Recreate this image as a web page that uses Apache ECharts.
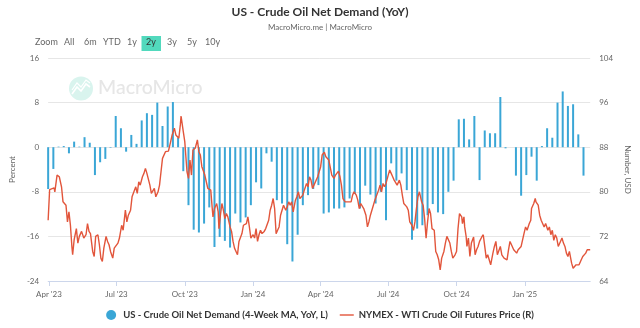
<!DOCTYPE html>
<html>
<head>
<meta charset="utf-8">
<style>
  html, body { margin: 0; padding: 0; background: #fff; }
  #chart { width: 640px; height: 328px; }
</style>
<script src="https://cdn.jsdelivr.net/npm/echarts@6/dist/echarts.min.js"></script>
</head>
<body>
<div id="chart"></div>
<script>
// All dates are stored as day offsets from this base date (2023-03-31).
const baseDate = [2023, 2, 31];
const axisFirstDay = 0;     // 2023-03-31
const axisLastDay = 730;    // 2025-03-30

const barName = 'US - Crude Oil Net Demand (4-Week MA, YoY, L)';
const lineName = 'NYMEX - WTI Crude Oil Futures Price (R)';

// US crude oil net demand, 4-week MA, YoY %, one value per week
const netDemandYoY = [
  -7.5, -3.9, 0.1, 0.2, -1.1, 1.0, 0.1, 1.8, 0.8, -5.0, -2.7, -2.1, -0.1, 5.6, 3.4, -0.8, 2.2, 0.6, 4.8, 6.1, 5.8, 8.0, 3.8, 7.3, 8.1, 1.7, -4.3,
  -10.4, -14.8, -15.3, -13.7, -10.8, -17.9, -16.1, -16.8, -18.0, -11.9, -13.5, -12.6, -10.4, -6.3, -7.4, -1.1, -2.6, -9.5, -10.1, -17.4, -20.5, -15.7, -10.4, -8.6, -7.5, -6.8,
  -11.9, -11.7, -11.0, -11.0, -10.8, -9.2, -8.4, -11.0, -6.9, -8.5, -10.1, -8.0, -13.1, -2.9, -6.0, -4.7, -7.7, -16.6, -14.6, -14.0, -12.2, -10.2, -11.7, -12.0, -8.0, -6.0,
  5.0, 5.1, 1.4, 5.6, -5.9, 3.0, 2.5, 2.5, 9.0, -0.2, 0, -5.1, -8.7, -5.0, -1.7, -6.0, 0.2, 3.4, 1.7, 8.0, 10.0, 7.4, 7.7, 2.3, -5.1
];
const barStepDays = 7;

// NYMEX WTI front-month price, USD: [day offset, price]
const wtiPrice = [
  [0,74.9],[2,80.4],[8,80.7],[9,80.0],[12,83.0],[15,82.7],[18,80.9],[20,78.2],[22,78.5],[24,77.6],[26,74.6],[28,76.4],[30,74.0],[32,70.1],[33,68.7],[35,71.4],[38,73.4],[40,70.8],[42,72.0],[45,72.9],[48,71.7],[51,72.3],[53,74.3],[55,72.9],[57,72.5],[60,69.3],[62,68.4],[64,72.0],[67,72.3],[69,70.5],[71,68.1],[73,67.5],[75,69.9],[78,72.0],[80,71.1],[82,70.5],[84,69.3],[87,68.1],[89,69.9],[91,70.2],[94,70.8],[96,71.7],[99,74.0],[101,73.1],[104,76.7],[106,74.6],[108,75.8],[111,76.7],[113,79.1],[115,79.4],[118,80.9],[120,79.7],[122,81.8],[124,81.2],[127,82.7],[129,83.3],[131,84.2],[133,83.3],[135,83.0],[137,81.2],[139,79.7],[141,80.0],[143,80.6],[145,79.1],[148,80.0],[150,81.2],[152,83.6],[154,86.0],[156,86.3],[158,87.2],[160,87.5],[162,87.3],[165,89.0],[167,90.2],[170,91.4],[172,90.2],[174,89.9],[176,89.6],[178,92.0],[179,93.6],
  [182,90.8],[184,89.0],[187,83.6],[189,82.4],[191,85.7],[193,83.0],[195,87.5],[198,87.8],[201,89.3],[203,87.2],[205,86.6],[207,84.5],[209,84.8],[211,83.0],[213,81.8],[215,80.6],[217,80.9],[219,80.3],[221,77.0],[222,75.5],[224,77.0],[227,77.9],[229,76.4],[230,73.4],[232,75.8],[234,77.9],[236,76.7],[238,75.2],[240,76.1],[242,75.5],[245,73.7],[247,72.9],[249,71.1],[251,69.9],[253,69.3],[255,68.7],[257,71.1],[259,71.4],[261,72.5],[263,74.0],[265,73.7],[267,74.3],[269,75.5],[271,73.7],[273,71.7],[276,72.3],[278,71.7],[280,73.4],[282,71.1],[284,72.3],[286,73.1],[288,72.5],[291,72.9],[293,73.4],[295,73.1],[297,74.9],[299,76.7],[301,77.6],[303,78.8],[305,77.0],[307,72.5],[309,73.1],[311,73.7],[313,75.8],[315,76.7],[317,77.6],[320,76.7],[322,77.3],[324,78.2],[326,77.6],[328,78.2],[330,76.4],[333,78.5],[335,79.1],[337,80.0],[339,78.8],[341,78.5],[343,79.4],[345,80.3],[348,81.5],[350,80.9],[352,82.7],[354,82.1],[356,80.6],[358,81.2],[360,81.5],[363,82.7],[365,83.0],[367,84.5],
  [369,86.6],[372,87.1],[374,86.3],[376,86.0],[378,85.7],[380,85.4],[382,83.0],[385,82.4],[387,83.0],[389,83.3],[391,83.7],[393,82.7],[395,81.2],[397,78.8],[400,78.2],[402,78.5],[404,78.2],[406,78.5],[408,78.2],[410,79.4],[412,80.0],[415,79.4],[417,78.5],[419,77.0],[421,77.9],[423,77.6],[425,77.0],[428,75.8],[430,73.7],[432,74.6],[434,75.8],[436,76.7],[438,77.6],[440,78.5],[442,78.2],[445,80.3],[447,81.2],[449,80.0],[451,81.5],[453,80.9],[455,81.5],[458,83.0],[460,83.9],[462,83.3],[464,82.7],[466,82.1],[468,82.4],[470,81.2],[473,82.1],[475,81.2],[477,79.4],[479,77.9],[481,78.2],[483,77.3],[485,76.7],[487,74.6],[490,74.0],[492,73.1],[494,74.6],[496,77.0],[498,79.1],[500,80.0],[503,78.2],[505,77.6],[507,75.2],[509,71.7],[511,74.6],[513,77.0],[515,76.1],[517,73.4],[520,73.1],[522,69.3],[524,68.7],[526,67.8],[528,66.0],[530,68.1],[533,69.3],[535,70.8],[537,72.0],[539,71.7],[541,70.8],[543,69.3],[545,68.1],[548,68.7],[550,69.3],[552,73.4],
  [554,76.1],[557,75.5],[558,74.3],[560,75.5],[561,73.7],[563,71.9],[564,70.2],[566,71.7],[568,68.4],[570,70.8],[573,71.9],[575,68.7],[577,69.6],[579,70.2],[581,71.1],[584,71.9],[586,72.3],[588,70.2],[590,68.1],[592,68.7],[594,67.8],[596,66.9],[599,69.0],[601,70.2],[603,71.1],[605,68.7],[607,68.4],[609,70.2],[611,68.7],[614,68.1],[616,68.4],[618,67.8],[620,69.6],[622,71.1],[624,70.5],[627,69.6],[629,69.9],[631,69.0],[633,69.6],[635,69.3],[637,70.2],[639,70.5],[641,72.6],[643,73.7],[645,73.1],[648,74.3],[650,74.9],[651,77.0],[654,77.9],[656,78.8],[657,78.2],[660,77.6],[662,75.8],[664,74.9],[666,74.6],[668,73.7],[670,74.3],[673,73.1],[675,73.7],[677,72.3],[679,73.1],[681,71.3],[683,72.3],[685,71.7],[687,70.2],[690,71.1],[692,71.7],[694,70.8],[696,70.2],[698,69.0],[700,68.4],[702,69.3],[705,67.2],[707,66.3],[709,66.0],[711,66.9],[713,67.2],[715,66.9],[718,67.8],[720,68.4],[722,68.7],[724,69.0],[726,69.6],[728,69.3],[730,69.6]
];

// Quarterly ticks on the date axis: [year, month index]
const tickMonths = [[2023,3],[2023,6],[2023,9],[2024,0],[2024,3],[2024,6],[2024,9],[2025,0]];
const tickLabels = ["Apr '23", "Jul '23", "Oct '23", "Jan '24", "Apr '24", "Jul '24", "Oct '24", "Jan '25"];

// Left axis (percent) and right axis (USD) ranges
const leftAxis = { min: -24, max: 16, step: 8 };
const rightAxis = { min: 64, max: 104, step: 8 };

// Range selector buttons shown above the plot
const rangeButtons = ['All', '6m', 'YTD', '1y', '2y', '3y', '5y', '10y'];
const activeRange = '2y';

const FONT = 'Lato, "Noto Sans", sans-serif';
const BAR_COLOR = '#3aa6d6';
const LINE_COLOR = '#e2553b';

const DAY_MS = 86400000;
const baseTime = new Date(baseDate[0], baseDate[1], baseDate[2]).getTime();
const dayOf = (y, m, d) => Math.round((new Date(y, m, d).getTime() - baseTime) / DAY_MS);
const tickDays = tickMonths.map(([y, m]) => dayOf(y, m, 1));
const labelFor = {};
tickDays.forEach((d, i) => { labelFor[d] = tickLabels[i]; });

const barData = netDemandYoY.map((v, i) => [i * barStepDays, v]);
const lineData = wtiPrice.map(([d, p]) => [d, p]);

// Range selector layout
const btnX = [64, 84, 103, 127, 146, 167, 187, 205];
const selectorEls = [{
  type: 'text', x: 35, y: 38,
  style: { text: 'Zoom', font: '9px ' + FONT, fill: '#666' }
}];
rangeButtons.forEach((b, i) => {
  if (b === activeRange) {
    selectorEls.push({
      type: 'rect', shape: { x: btnX[i] - 4.5, y: 36, width: 19.5, height: 15 },
      style: { fill: '#52d9bd' }
    });
  }
  selectorEls.push({
    type: 'text', x: btnX[i], y: 38,
    style: { text: b, font: '9px ' + FONT, fill: b === activeRange ? '#333' : '#666' }
  });
});

// Faint brand watermark behind the plot
const watermark = [
  { type: 'circle', shape: { cx: 81, cy: 88.5, r: 12 }, style: { fill: '#d9f4ee' }, z: -10 },
  { type: 'polyline', shape: { points: [[72, 94], [77, 87], [81, 91], [86, 84], [90, 87]] },
    style: { stroke: '#ffffff', lineWidth: 1.6, fill: null }, z: -9 },
  { type: 'polyline', shape: { points: [[72, 90], [77, 83], [81, 87], [86, 80], [90, 83]] },
    style: { stroke: '#ffffff', lineWidth: 1.2, fill: null }, z: -9 },
  { type: 'text', x: 98, y: 78,
    style: { text: 'MacroMicro', font: '500 19.5px ' + FONT, fill: '#e6e6e6' }, z: -10 }
];

const chart = echarts.init(document.getElementById('chart'), null, { renderer: 'canvas' });
chart.setOption({
  animation: false,
  backgroundColor: '#fff',
  title: {
    text: 'US - Crude Oil Net Demand (YoY)',
    subtext: 'MacroMicro.me | MacroMicro',
    left: 'center', top: 1, itemGap: 5,
    textStyle: { fontFamily: FONT, fontSize: 12, fontWeight: 'bold', color: '#333' },
    subtextStyle: { fontFamily: FONT, fontSize: 8, color: '#666' }
  },
  graphic: selectorEls.concat(watermark),
  legend: {
    bottom: 3, left: 'center',
    itemWidth: 14, itemHeight: 10, itemGap: 12,
    textStyle: { fontFamily: FONT, fontSize: 9.5, fontWeight: 'bold', color: '#333' },
    data: [
      { name: barName, icon: 'circle' },
      { name: lineName, icon: 'path://M0,0H20V2H0Z' }
    ]
  },
  grid: { left: 36, right: 37, top: 58, bottom: 47 },
  xAxis: {
    type: 'value',
    min: axisFirstDay, max: axisLastDay,
    axisLine: { show: true, onZero: false, lineStyle: { color: '#ccd6eb' } },
    axisTick: { show: true, length: 5, lineStyle: { color: '#ccd6eb' }, customValues: tickDays },
    axisLabel: {
      customValues: tickDays, margin: 9, fontSize: 8, fontFamily: FONT, color: '#666',
      formatter: v => labelFor[v] || ''
    },
    splitLine: { show: false }
  },
  yAxis: [{
    type: 'value', position: 'left',
    min: leftAxis.min, max: leftAxis.max, interval: leftAxis.step,
    name: 'Percent', nameLocation: 'middle', nameGap: 27,
    nameTextStyle: { fontFamily: FONT, fontSize: 8, color: '#666' },
    axisLine: { show: false }, axisTick: { show: false },
    axisLabel: { margin: 9, fontSize: 8, fontFamily: FONT, color: '#666' },
    splitLine: { lineStyle: { color: '#e6e6e6' } }
  }, {
    type: 'value', position: 'right',
    min: rightAxis.min, max: rightAxis.max, interval: rightAxis.step,
    name: 'Number, USD', nameLocation: 'middle', nameGap: 32, nameRotate: -90,
    nameTextStyle: { fontFamily: FONT, fontSize: 8, color: '#666' },
    axisLine: { show: false }, axisTick: { show: false },
    axisLabel: { margin: 9, fontSize: 8, fontFamily: FONT, color: '#666' },
    splitLine: { show: false }
  }],
  series: [{
    name: barName, type: 'bar', yAxisIndex: 0,
    data: barData, barWidth: 2,
    itemStyle: { color: BAR_COLOR },
    z: 2
  }, {
    name: lineName, type: 'line', yAxisIndex: 1,
    data: lineData, showSymbol: false, symbol: 'none',
    lineStyle: { color: LINE_COLOR, width: 1.4 },
    itemStyle: { color: LINE_COLOR },
    z: 3
  }]
});
</script>
</body>
</html>
